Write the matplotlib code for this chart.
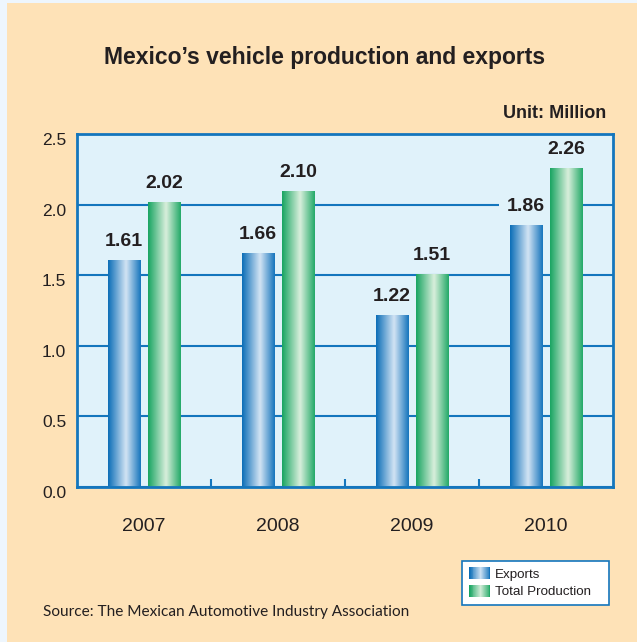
import matplotlib
matplotlib.use("Agg")
import matplotlib.pyplot as plt
import numpy as np
from matplotlib.colors import LinearSegmentedColormap
from matplotlib.patches import Rectangle
from matplotlib.legend_handler import HandlerBase
from matplotlib.transforms import ScaledTranslation

years = ["2007", "2008", "2009", "2010"]
exports = [1.61, 1.66, 1.22, 1.86]
production = [2.02, 2.10, 1.51, 2.26]
yticks = [0.0, 0.5, 1.0, 1.5, 2.0, 2.5]
series_names = ["Exports", "Total Production"]

FONT = "Liberation Sans"
PEACH = "#fee2b7"
AXBG = "#e0f2fa"
BLUE_LINE = "#1476bd"
INK = "#231f20"

blue_cmap = LinearSegmentedColormap.from_list(
    "bl", [(0, "#0a6db7"), (0.55, "#d3e4f4"), (1, "#1474bc")])
green_cmap = LinearSegmentedColormap.from_list(
    "gr", [(0, "#17a461"), (0.55, "#d9efdc"), (1, "#22a967")])

fig = plt.figure(figsize=(6.37, 6.42), dpi=100, facecolor="#eef6fd")
W, H = 637, 642
fig.patches.append(Rectangle((7 / W, 0), 1, 1 - 3 / H, transform=fig.transFigure,
                             facecolor=PEACH, edgecolor="none", zorder=-10))

ax = fig.add_axes([77.3 / W, (H - 487) / H, 535.4 / W, 352.7 / H])
ax.set_facecolor(AXBG)
x = np.arange(len(years))
bw = 0.24
off = 0.15

grad = np.linspace(0, 1, 256).reshape(1, -1)

def grad_bars(xs, vals, cmap):
    bars = ax.bar(xs, vals, width=bw, facecolor="none", edgecolor="none", zorder=2)
    for r in bars:
        x0, w, h = r.get_x(), r.get_width(), r.get_height()
        im = ax.imshow(grad, extent=[x0, x0 + w, 0, h], aspect="auto", cmap=cmap,
                       zorder=2, interpolation="bicubic")
        im.set_clip_path(r)
    return bars

grad_bars(x - off, exports, blue_cmap)
grad_bars(x + off, production, green_cmap)

ax.set_xlim(-0.5, len(years) - 0.5)
ax.set_ylim(0, 2.5)

for xs, vals in ((x - off, exports), (x + off, production)):
    for xi, v in zip(xs, vals):
        ax.annotate(f"{v:.2f}", (xi, v), xytext=(0, 10), textcoords="offset pixels",
                    ha="center", va="bottom", fontsize=14, fontweight="bold",
                    family=FONT, color=INK, zorder=1.5,
                    bbox=dict(boxstyle="square,pad=0.4", facecolor=AXBG, edgecolor="none"))

ax.set_yticks(yticks)
ax.set_yticklabels([f"{t:.1f}" for t in yticks])
ax.set_axisbelow(True)
ax.yaxis.grid(True, color=BLUE_LINE, linewidth=1.5)
ax.xaxis.grid(False)
ax.tick_params(axis="y", length=0, pad=8, labelsize=12.5, labelcolor=INK)
for lbl in ax.get_yticklabels():
    lbl.set_family(FONT)
    lbl.set_transform(lbl.get_transform() + ScaledTranslation(0, -5 / 100, fig.dpi_scale_trans))

ax.set_xticks(x)
ax.set_xticklabels(years)
ax.tick_params(axis="x", which="major", length=0, pad=22, labelsize=14, labelcolor=INK)
for lbl in ax.get_xticklabels():
    lbl.set_family(FONT)
ax.set_xticks(np.arange(0.5, len(years) - 0.5, 1), minor=True)
ax.tick_params(axis="x", which="minor", direction="in", length=6, width=1.5, color=BLUE_LINE)

for s in ax.spines.values():
    s.set_color(BLUE_LINE)
    s.set_linewidth(2)

fig.text(325 / W, 1 - 64.3 / H, "Mexico\u2019s vehicle production and exports",
         ha="center", va="baseline", fontsize=16.5, fontweight="bold", family=FONT,
         color=INK)
fig.text(606 / W, 1 - 118 / H, "Unit: Million", ha="right", va="baseline",
         fontsize=13, fontweight="bold", family=FONT, color=INK)
fig.text(43.3 / W, 1 - 616 / H, "Source: The Mexican Automotive Industry Association",
         ha="left", va="baseline", fontsize=11.1, family="Lato", color=INK)


class GradHandler(HandlerBase):
    def __init__(self, cmap):
        super().__init__()
        self.cmap = cmap

    def create_artists(self, legend, orig_handle, xdescent, ydescent, width, height,
                       fontsize, trans):
        n = 24
        arts = []
        for i in range(n):
            arts.append(Rectangle((-xdescent + width * i / n, -ydescent), width / n + 0.01,
                                  height, facecolor=self.cmap(i / (n - 1)),
                                  edgecolor="none", transform=trans))
        return arts


h1 = Rectangle((0, 0), 1, 1)
h2 = Rectangle((0, 0), 1, 1)
leg = fig.legend([h1, h2], series_names, loc="upper left", mode="expand",
                 bbox_to_anchor=(462.3 / W, 1 - 602.7 / H, 147 / W, 42 / H),
                 bbox_transform=fig.transFigure,
                 handler_map={h1: GradHandler(blue_cmap), h2: GradHandler(green_cmap)},
                 prop={"family": FONT, "size": 9.6}, fancybox=False, framealpha=1,
                 edgecolor=BLUE_LINE, facecolor="white", handlelength=1.6, handleheight=1.0,
                 handletextpad=0.35, borderpad=0.5, labelspacing=0.3, borderaxespad=0)
leg.get_frame().set_linewidth(1.2)
for t in leg.get_texts():
    t.set_color(INK)

fig.savefig("out.png", dpi=100, facecolor=fig.get_facecolor())
